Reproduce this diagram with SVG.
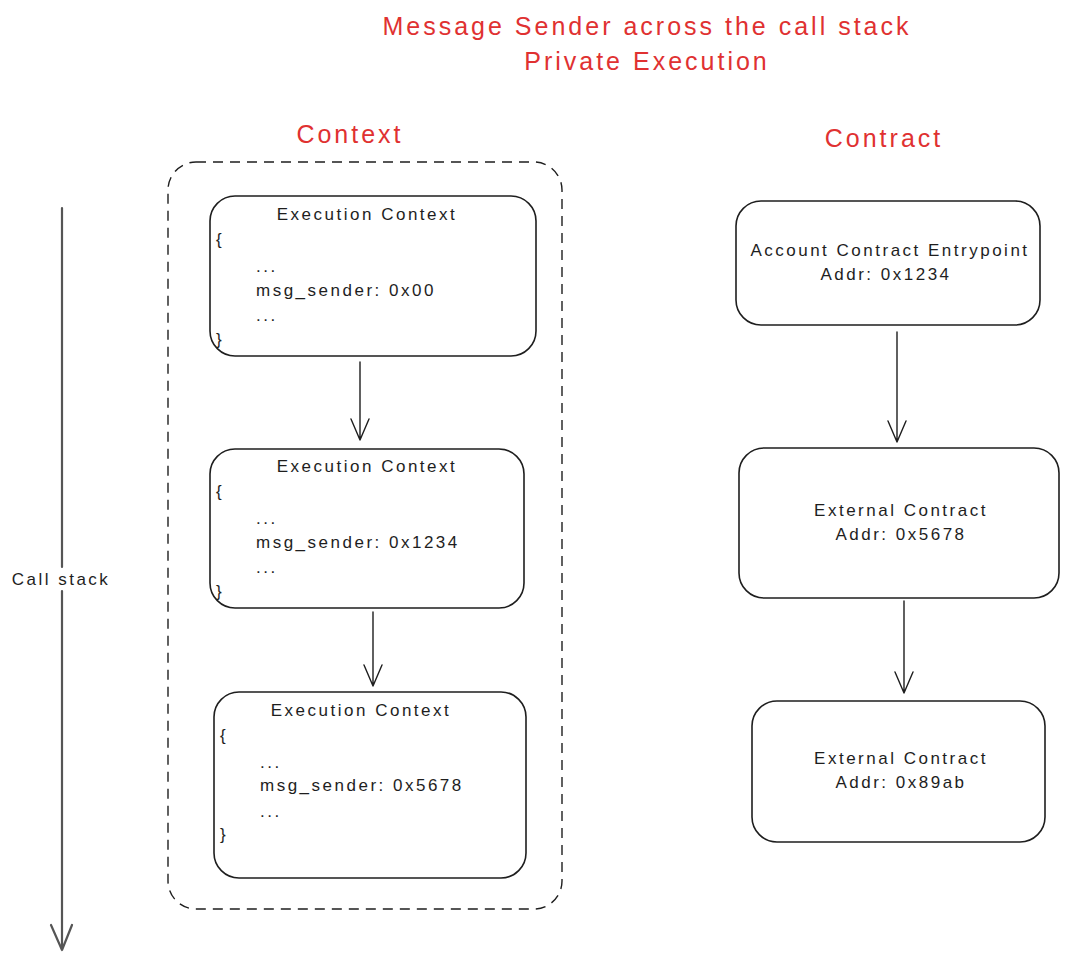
<svg xmlns="http://www.w3.org/2000/svg" width="1069" height="962" viewBox="0 0 1069 962">
<style>
.title{font-family:"Liberation Sans",Arial,sans-serif;font-size:25px;letter-spacing:3px;fill:#e03131;text-anchor:middle}
.t{font-family:"Liberation Sans",Arial,sans-serif;font-size:17px;letter-spacing:2.5px;fill:#1e1e1e}
.c{text-anchor:middle}
.box{fill:#fff;stroke:#1e1e1e;stroke-width:1.6}
.dash{fill:none;stroke:#1e1e1e;stroke-width:1.4;stroke-dasharray:10 7}
.ln{fill:none;stroke:#1e1e1e;stroke-width:1.4;stroke-linecap:round;stroke-linejoin:round}
.cs{fill:none;stroke:#555;stroke-width:2.2;stroke-linecap:round;stroke-linejoin:round}
</style>
<rect width="1069" height="962" fill="#fff"/>
<g id="title">
<text class="title" x="647" y="35">Message Sender across the call stack</text>
<text class="title" x="647" y="70">Private Execution</text>
</g>
<g id="label-context"><text class="title" x="350" y="143">Context</text></g>
<g id="label-contract"><text class="title" x="884" y="147">Contract</text></g>
<g id="context-group"><rect class="dash" x="168" y="162" width="394" height="747" rx="28"/></g>
<g id="call-stack">
<path class="cs" d="M62 208 V567 M62 591 V950 M51 925 L62 950 L72 925"/>
<text class="t c" x="61" y="585">Call stack</text>
</g>
<g id="ctx1">
<rect class="box" x="210" y="196" width="326" height="160" rx="25"/>
<text class="t c" x="367" y="220">Execution Context</text>
<text class="t" x="216" y="245">{</text>
<text class="t" x="256" y="272">...</text>
<text class="t" x="256" y="296">msg_sender: 0x00</text>
<text class="t" x="256" y="321">...</text>
<text class="t" x="216" y="345">}</text>
</g>
<g id="ctx2">
<rect class="box" x="210" y="449" width="314" height="159" rx="25"/>
<text class="t c" x="367" y="472">Execution Context</text>
<text class="t" x="216" y="497">{</text>
<text class="t" x="256" y="524">...</text>
<text class="t" x="256" y="548">msg_sender: 0x1234</text>
<text class="t" x="256" y="573">...</text>
<text class="t" x="216" y="597">}</text>
</g>
<g id="ctx3">
<rect class="box" x="214" y="692" width="312" height="186" rx="25"/>
<text class="t c" x="361" y="716">Execution Context</text>
<text class="t" x="220" y="741">{</text>
<text class="t" x="260" y="768">...</text>
<text class="t" x="260" y="791">msg_sender: 0x5678</text>
<text class="t" x="260" y="817">...</text>
<text class="t" x="220" y="840">}</text>
</g>
<g id="acc">
<rect class="box" x="736" y="201" width="304" height="124" rx="25"/>
<text class="t c" x="890" y="256">Account Contract Entrypoint</text>
<text class="t c" x="886" y="280">Addr: 0x1234</text>
</g>
<g id="ext1">
<rect class="box" x="739" y="448" width="320" height="150" rx="25"/>
<text class="t c" x="901" y="516">External Contract</text>
<text class="t c" x="901" y="540">Addr: 0x5678</text>
</g>
<g id="ext2">
<rect class="box" x="752" y="701" width="293" height="141" rx="25"/>
<text class="t c" x="901" y="764">External Contract</text>
<text class="t c" x="901" y="788">Addr: 0x89ab</text>
</g>
<g id="connectors">
<path class="ln" d="M360 362 V440 M351 419 L360 440 L369 419"/>
<path class="ln" d="M373 612 V686 M364 665 L373 686 L382 665"/>
<path class="ln" d="M897 332 V442 M888 421 L897 442 L906 421"/>
<path class="ln" d="M904 601 V693 M895 672 L904 693 L913 672"/>
</g>
</svg>
